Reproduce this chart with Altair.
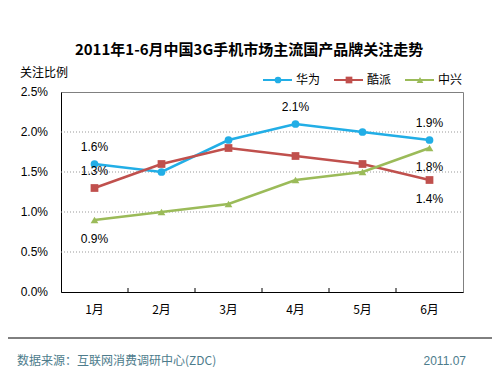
import altair as alt
import pandas as pd

months = ["1月", "2月", "3月", "4月", "5月", "6月"]
series = ["华为", "酷派", "中兴"]
huawei = [0.016, 0.015, 0.019, 0.021, 0.020, 0.019]
coolpad = [0.013, 0.016, 0.018, 0.017, 0.016, 0.014]
zte = [0.009, 0.010, 0.011, 0.014, 0.015, 0.018]
y_ticks = [0.0, 0.005, 0.010, 0.015, 0.020, 0.025]
colors = ["#22aee6", "#c0504d", "#9bbb59"]
shapes = ["circle", "square", "triangle-up"]

# labelled points: (series, month index, position above/below)
label_series = ["华为", "华为", "华为", "酷派", "酷派", "中兴", "中兴"]
label_month = [0, 3, 5, 0, 5, 0, 5]
label_pos = ["above", "above", "above", "above", "below", "below", "below"]

FONT = "Arial, 'Liberation Sans', 'Noto Sans CJK SC', sans-serif"
CJK = "'Noto Sans CJK SC', 'Liberation Sans', sans-serif"

rows = []
for s, vals in zip(series, [huawei, coolpad, zte]):
    for m, v in zip(months, vals):
        rows.append({"month": m, "series": s, "value": v})
df = pd.DataFrame(rows)

lab_rows = []
vals_by = {"华为": huawei, "酷派": coolpad, "中兴": zte}
for s, mi, p in zip(label_series, label_month, label_pos):
    lab_rows.append({"month": months[mi], "series": s, "value": vals_by[s][mi],
                     "pos": p, "txt": f"{vals_by[s][mi]*100:.1f}%"})
labdf = pd.DataFrame(lab_rows)

tickdf = pd.DataFrame({"value": y_ticks, "txt": [f"{v*100:.1f}%" for v in y_ticks]})

color_scale = alt.Scale(domain=series, range=colors)
shape_scale = alt.Scale(domain=series, range=shapes)

xaxis = alt.Axis(title=None, labelAngle=0, ticks=False, labelPadding=12,
                 labelFontSize=12, labelColor="#000", labelFont=CJK,
                 domainColor="#000", grid=False)
xscale = alt.Scale(type="band", paddingInner=0, paddingOuter=0)
yaxis = alt.Axis(title=None, labels=False, ticks=False, grid=False, domainColor="#000")
yscale = alt.Scale(domain=[0, 0.025], nice=False, zero=True)


def X(bp=0.5):
    return alt.X("month:N", sort=months, bandPosition=bp, scale=xscale, axis=xaxis)


def Y():
    return alt.Y("value:Q", scale=yscale, axis=yaxis)


# gridlines and y labels
grid = alt.Chart(tickdf[(tickdf.value > 0) & (tickdf.value < 0.025)]).mark_rule(
    color="#999", strokeDash=[1, 2], strokeWidth=1).encode(
    y=Y(), x=alt.value(0), x2=alt.value(402))
ylabels = alt.Chart(tickdf).mark_text(
    align="right", baseline="middle", fontSize=12, font=FONT, color="#000").encode(
    y=Y(), x=alt.value(-13), text="txt:N")

base = alt.Chart(df)
lines = base.mark_line(strokeWidth=2.5).encode(
    x=X(), y=Y(),
    color=alt.Color("series:N", scale=color_scale, legend=None),
)
points = base.mark_point(filled=True, opacity=1, size=60).encode(
    x=X(), y=Y(),
    color=alt.Color("series:N", scale=color_scale, legend=None),
    shape=alt.Shape("series:N", scale=shape_scale, legend=None),
)

ticks = alt.Chart(pd.DataFrame({"month": months[1:]})).mark_rule(color="#000").encode(
    x=X(0),
    y=alt.value(196), y2=alt.value(200),
)

lab_above = alt.Chart(labdf[labdf.pos == "above"]).mark_text(
    dy=-17, fontSize=12, font=FONT, color="#000").encode(
    x=X(), y=Y(), text="txt:N")
lab_below = alt.Chart(labdf[labdf.pos == "below"]).mark_text(
    dy=19, fontSize=12, font=FONT, color="#000").encode(
    x=X(), y=Y(), text="txt:N")

# legend
legdf = pd.DataFrame({"series": series, "i": list(range(len(series)))})
legdf["x1"] = 202 + 71 * legdf["i"]
legdf["x2"] = legdf["x1"] + 29
legdf["xm"] = legdf["x1"] + 15
legdf["xt"] = legdf["x1"] + 33
leg_line = alt.Chart(legdf).mark_rule(strokeWidth=2).encode(
    x=alt.X("x1:Q", scale=None), x2="x2:Q", y=alt.value(-12),
    color=alt.Color("series:N", scale=color_scale, legend=None))
leg_pt = alt.Chart(legdf).mark_point(filled=True, opacity=1, size=45).encode(
    x=alt.X("xm:Q", scale=None), y=alt.value(-12),
    color=alt.Color("series:N", scale=color_scale, legend=None),
    shape=alt.Shape("series:N", scale=shape_scale, legend=None))
leg_txt = alt.Chart(legdf).mark_text(align="left", baseline="middle", fontSize=12,
                                     font=CJK, color="#000").encode(
    x=alt.X("xt:Q", scale=None), y=alt.value(-12), text="series:N")

title = alt.Chart(pd.DataFrame({"t": ["2011年1-6月中国3G手机市场主流国产品牌关注走势"]})).mark_text(
    fontSize=15, fontWeight="bold", font=CJK, color="#000", baseline="middle").encode(
    x=alt.value(188), y=alt.value(-42), text="t:N")
ylab = alt.Chart(pd.DataFrame({"t": ["关注比例"]})).mark_text(
    fontSize=12, font=CJK, color="#000", align="left", baseline="middle").encode(
    x=alt.value(-41), y=alt.value(-19), text="t:N")
footer_line = alt.Chart(pd.DataFrame({"a": [0]})).mark_rule(color="#000", strokeWidth=1).encode(
    x=alt.value(-57), x2=alt.value(435), y=alt.value(246))
footer_src = alt.Chart(pd.DataFrame({"t": ["数据来源：互联网消费调研中心(ZDC)"]})).mark_text(
    fontSize=12, font=CJK, color="#4d7c8c", align="left", baseline="middle").encode(
    x=alt.value(-44), y=alt.value(269), text="t:N")
footer_date = alt.Chart(pd.DataFrame({"t": ["2011.07"]})).mark_text(
    fontSize=12, font=FONT, color="#4d7c8c", align="right", baseline="middle").encode(
    x=alt.value(405), y=alt.value(269), text="t:N")

chart = alt.layer(
    grid, ylabels, lines, points, ticks, lab_above, lab_below,
    leg_line, leg_pt, leg_txt, title, ylab, footer_line, footer_src, footer_date
).properties(
    width=402, height=200,
    autosize=alt.AutoSizeParams(type="none"),
    padding={"left": 53, "top": 84, "right": 29, "bottom": 75},
    background="white",
).configure_view(stroke="#808080", strokeWidth=1)

chart.save("out.html", embed_options={"renderer": "svg", "actions": False})
